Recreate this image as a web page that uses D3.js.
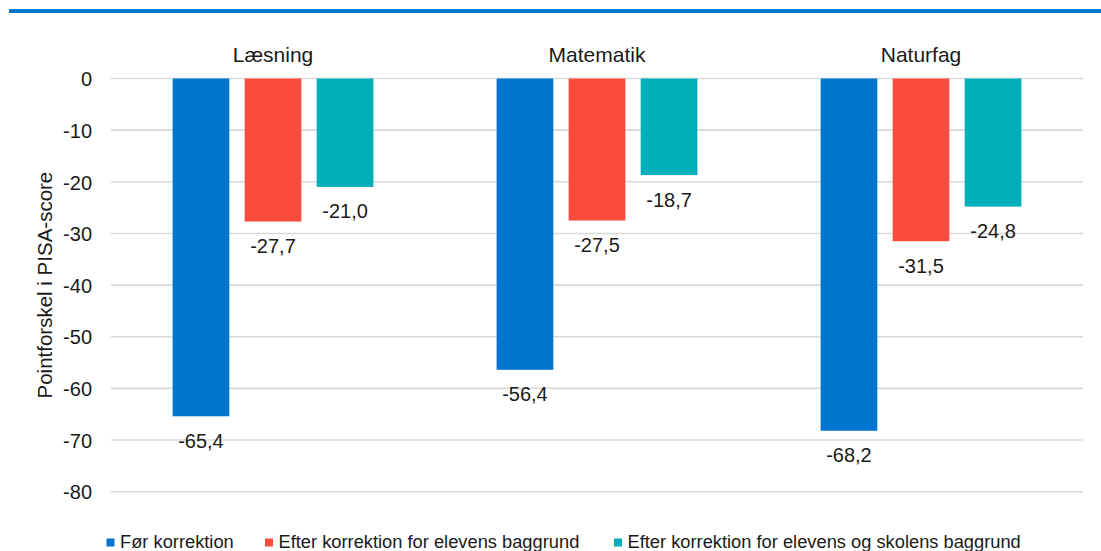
<!DOCTYPE html>
<html><head><meta charset="utf-8">
<script src="https://cdn.jsdelivr.net/npm/d3@7"></script>
<style>
html,body{margin:0;padding:0;background:#fff;}
svg{display:block;font-family:"Liberation Sans",Arial,sans-serif;}
</style></head>
<body>
<svg id="chart" width="1101" height="551"></svg>
<script>
const categories = ["Læsning", "Matematik", "Naturfag"];
const seriesNames = ["Før korrektion", "Efter korrektion for elevens baggrund", "Efter korrektion for elevens og skolens baggrund"];
const forKorrektion = [-65.4, -56.4, -68.2];
const efterElev = [-27.7, -27.5, -31.5];
const efterElevSkole = [-21.0, -18.7, -24.8];
const yTicks = [0, -10, -20, -30, -40, -50, -60, -70, -80];
const colors = ["#0076CE", "#F94C3C", "#00AFB9"];

(function () {
const seriesValues = [forKorrektion, efterElev, efterElevSkole];
const svg = d3.select("#chart");

// top accent line
svg.append("rect").attr("x", 9).attr("y", 9).attr("width", 1092).attr("height", 4).attr("fill", "#0078D2");

const pLeft = 111, pRight = 1083, pTop = 78.5, pBottom = 491.7;
const x0 = d3.scaleBand().domain(categories).range([pLeft, pRight]).padding(0);
const x1 = d3.scaleBand().domain(d3.range(3)).range([61.6, 324 - 61.6]).paddingInner(0.2125).paddingOuter(0);
const y = d3.scaleLinear().domain([-80, 0]).range([pBottom, pTop]);

// gridlines
svg.append("g").selectAll("line").data(yTicks).join("line")
  .attr("x1", pLeft).attr("x2", pRight)
  .attr("y1", d => y(d)).attr("y2", d => y(d))
  .attr("stroke", "#d9d9d9").attr("stroke-width", 1.6);

// y axis labels
const yAxis = d3.axisLeft(y).tickValues(yTicks).tickSize(0).tickPadding(0).tickFormat(d => d3.format("d")(d).replace("−", "-"));
const ya = svg.append("g").attr("transform", `translate(${92},0)`).call(yAxis);
ya.select(".domain").remove();
ya.selectAll("text").attr("font-size", 20).attr("font-family", "'Liberation Sans',Arial,sans-serif").attr("fill", "#1a1a1a").attr("dy", "0.36em");

// y title
svg.append("text").attr("transform", `translate(51.5,${(pTop + pBottom) / 2}) rotate(-90)`)
  .attr("text-anchor", "middle").attr("font-size", 20.5).attr("fill", "#1a1a1a")
  .text("Pointforskel i PISA-score");

// category labels (top)
svg.append("g").selectAll("text").data(categories).join("text")
  .attr("x", d => x0(d) + x0.bandwidth() / 2).attr("y", 61.5)
  .attr("text-anchor", "middle").attr("font-size", 21).attr("fill", "#1a1a1a")
  .text(d => d);

// bars
const fmt = v => d3.format(".1f")(v).replace("−", "-").replace(".", ",");
categories.forEach((cat, ci) => {
  const g = svg.append("g").attr("transform", `translate(${x0(cat)},0)`);
  seriesValues.forEach((vals, si) => {
    const v = vals[ci];
    g.append("rect").attr("x", x1(si)).attr("width", x1.bandwidth())
      .attr("y", y(0)).attr("height", y(v) - y(0)).attr("fill", colors[si]);
    g.append("text").attr("x", x1(si) + x1.bandwidth() / 2).attr("y", y(v) + 31.5)
      .attr("text-anchor", "middle").attr("font-size", 20).attr("fill", "#1a1a1a")
      .text(fmt(v));
  });
});

// legend
const legendX = [106.5, 265, 614];
const lg = svg.append("g");
seriesNames.forEach((name, i) => {
  lg.append("rect").attr("x", legendX[i]).attr("y", 538.5).attr("width", 8).attr("height", 8).attr("fill", colors[i]);
  lg.append("text").attr("x", legendX[i] + 13.5).attr("y", 547.5).attr("font-size", 18.3).attr("fill", "#1a1a1a").text(name);
});
})();
</script>
</body></html>
